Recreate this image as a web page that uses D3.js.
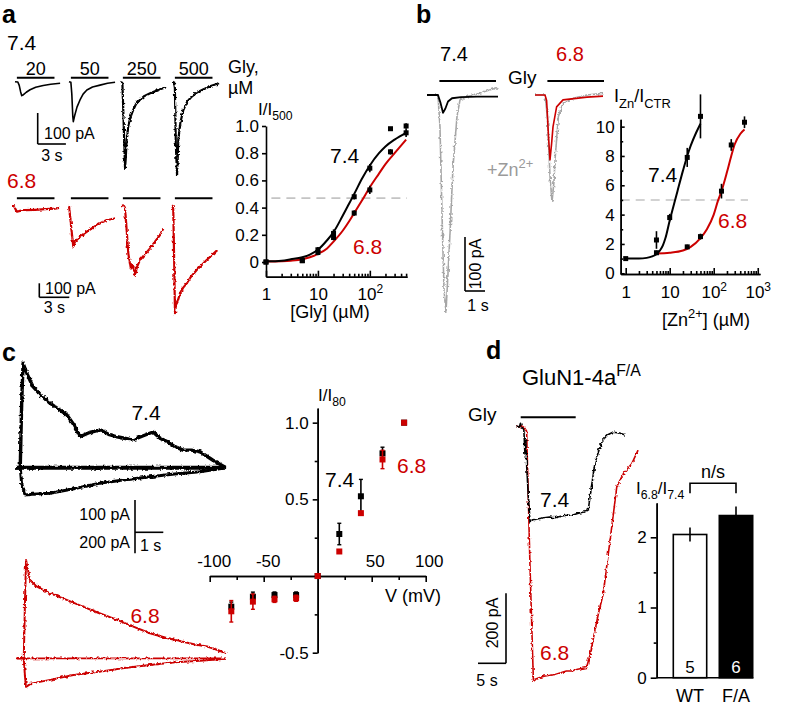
<!DOCTYPE html>
<html><head><meta charset="utf-8">
<script src="https://cdn.jsdelivr.net/npm/d3@7"></script>
<style>
body{margin:0;background:#fff}
svg{display:block;font-family:"Liberation Sans",Arial,Helvetica,sans-serif}
</style></head><body>
<svg id="fig" width="787" height="722"></svg>
<script>
// ================= DATA =================
// Panel a – glycine dose-response (I/I500)
const glyConc   = [1, 5, 10, 20, 50, 100, 250, 500];
const glyResp74 = [0.0, 0.01, 0.09, 0.21, 0.48, 0.69, 0.98, 1.0];
const glyErr74  = [0.01, 0.015, 0.02, 0.03, 0.02, 0.03, 0.01, 0.02];
const glyResp68 = [0.0, 0.01, 0.07, 0.18, 0.36, 0.53, 0.81, 0.95];
const glyErr68  = [0.01, 0.015, 0.02, 0.02, 0.02, 0.03, 0.02, 0.03];
const glyFitConc = [1,2,3,5,7,10,15,20,30,40,50,70,100,150,200,300,500];
const glyFit74 = [0.005,0.01,0.02,0.035,0.055,0.09,0.16,0.22,0.34,0.43,0.50,0.61,0.71,0.80,0.85,0.90,0.95];
const glyFit68 = [0.003,0.006,0.01,0.02,0.035,0.06,0.10,0.15,0.23,0.30,0.36,0.45,0.55,0.65,0.72,0.80,0.90];
const glyHalf = 0.47;
const glyYTicks = [0, 0.2, 0.4, 0.6, 0.8, 1.0];
const glyXTicks = [1, 10, 100];
const glyConcLabels = ["20", "50", "250", "500"];

// Panel a – example traces [time s, current pA]
const a74_20  = [[0,0],[0.3,-1],[0.45,-12],[0.6,-33],[0.72,-45],[0.9,-42],[1.2,-34],[1.6,-26],[2.2,-18],[3,-12],[3.8,-8],[4.8,-5]];
const a74_50  = [[0,0],[0.2,-2],[0.3,-40],[0.4,-110],[0.46,-129],[0.6,-110],[0.85,-82],[1.17,-59],[1.5,-40],[1.9,-27],[2.5,-17],[3.3,-11],[4.1,-5],[4.9,-2]];
const a74_250 = [[0,0],[0.15,-5],[0.3,-150],[0.43,-278],[0.5,-250],[0.6,-188],[0.8,-140],[1.0,-115],[1.3,-91],[1.6,-72],[2.0,-59],[2.5,-46],[3.1,-37],[4,-26],[4.8,-18]];
const a74_500 = [[0,0],[0.1,-2],[0.2,-20],[0.3,-200],[0.43,-301],[0.5,-250],[0.56,-188],[0.8,-130],[1.1,-91],[1.5,-65],[2.0,-48],[2.6,-34],[3.2,-25],[4,-14],[4.9,-5]];
const a68_20  = [[-0.3,5],[-0.1,5],[0.1,-25],[0.2,-36],[0.5,-30],[1,-25],[2,-22],[3,-18],[4,-14],[4.4,-8]];
const a68_50  = [[-0.07,8],[0,5],[0.1,-60],[0.3,-200],[0.43,-285],[0.6,-250],[1.1,-214],[1.77,-179],[2.77,-131],[3.77,-95],[4.6,-83]];
const a68_250 = [[0.07,10],[0.3,5],[0.4,-9],[0.55,-150],[0.73,-333],[0.97,-440],[1.1,-410],[1.23,-429],[1.4,-488],[1.6,-430],[1.9,-381],[2.4,-340],[2.9,-298],[3.4,-250],[3.9,-202],[4.23,-155]];
const a68_500 = [[-0.1,10],[-0.02,5],[0.03,-36],[0.12,-400],[0.2,-761],[0.3,-700],[0.45,-680],[0.7,-619],[1.0,-580],[1.37,-548],[1.8,-500],[2.37,-452],[2.9,-415],[3.37,-381],[3.9,-345],[4.43,-310]];
const glyApp = [0.2, 4.2];

// Panel b – Zn potentiation
const znConc74 = [1, 5, 10, 25, 50];
const znResp74 = [1.0, 2.27, 3.8, 7.9, 10.7];
const znErr74  = [0.1, 0.6, 0.25, 0.65, 1.5];
const znConc68 = [5, 25, 50, 150, 250, 500];
const znResp68 = [1.4, 1.8, 2.5, 5.6, 8.75, 10.3];
const znErr68  = [0.15, 0.15, 0.2, 0.5, 0.4, 0.4];
const znFitConc74 = [1,2,3,4,5,6,7,8,10,12,15,20,25,30,40,50];
const znFit74 = [1.0,1.0,1.05,1.15,1.3,1.55,1.9,2.4,3.6,4.5,5.6,7.0,8.0,8.7,9.6,10.2];
const znFitConc68 = [5,10,20,30,50,70,100,125,150,200,250,300,400,500];
const znFit68 = [1.35,1.4,1.55,1.8,2.4,3.0,4.0,4.95,5.6,6.9,8.0,8.8,9.5,9.8];
const znHalf = 5;
const znYTicks = [0, 2, 4, 6, 8, 10];
const znXTicks = [1, 10, 100, 1000];

const b74_ctr = [[0,0],[0.55,0],[0.68,-15],[0.8,-33],[0.92,-25],[1.05,-12],[1.25,-6],[1.7,-4],[2.5,-3],[3.55,-3]];
const b74_zn  = [[0,0],[0.55,0],[0.65,-60],[0.75,-220],[0.85,-360],[0.95,-402],[1.05,-330],[1.15,-256],[1.3,-133],[1.5,-40],[1.65,-9],[2.0,-3],[2.5,2],[3.0,8],[3.55,14]];
const b68_ctr = [[0,0],[0.5,0],[0.58,-10],[0.68,-80],[0.75,-120],[0.83,-90],[0.9,-59],[1.08,-22],[1.4,-9],[2.6,-4],[3.4,-2]];
const b68_zn  = [[0,0],[0.5,0],[0.62,-40],[0.75,-150],[0.85,-198],[0.95,-160],[1.0,-120],[1.17,-40],[1.4,-15],[1.9,-6],[2.6,0],[3.4,3]];
const znGlyApp = [0.62, 3.45];

// Panel c – I–V
const ivV    = [-80, -60, -40, -20, 0, 20, 40, 60, 80];
const iv74   = [-0.20, -0.135, -0.124, -0.124, 0, 0.274, 0.52, 0.80, 1.0];
const ivErr74= [0.03, 0.03, 0.02, 0.02, 0.01, 0.07, 0.11, 0.04, 0.01];
const iv68   = [-0.23, -0.167, -0.152, -0.145, 0, 0.16, 0.41, 0.76, 1.0];
const ivErr68= [0.07, 0.05, 0.02, 0.02, 0.01, 0.01, 0.01, 0.06, 0.01];
const ivXTicks = [-100, -50, 50, 100];
const ivYTicks = [-0.5, 0.5, 1.0];

const c74_up   = [[0,0],[0.15,0],[0.2,120],[0.25,196],[0.4,175],[0.6,152],[0.9,135],[1.2,121],[1.5,110],[1.8,99],[2.05,80],[2.26,58],[2.6,66],[2.97,71],[3.3,62],[3.57,58],[4.13,52],[4.5,60],[4.84,67],[5.1,55],[5.34,49],[5.6,40],[5.9,33],[6.2,33],[6.5,30],[6.96,14],[7.42,0]];
const c74_mid  = [[0,0],[7.42,0]];
const c74_down = [[0,0],[0.15,0],[0.2,-30],[0.32,-51],[0.6,-50],[1.2,-48],[2,-40],[2.97,-29],[3.8,-23],[4.73,-17],[5.6,-12],[6.5,-7.5],[7.42,0]];
const c68_up   = [[0,0],[0.25,0],[0.29,200],[0.33,369],[0.4,330],[0.47,294],[0.7,270],[1.18,244],[1.7,222],[2.34,194],[2.9,170],[3.55,144],[4.1,120],[4.71,94],[5.3,76],[5.88,62],[6.3,52],[6.73,44],[7.0,35],[7.4,19]];
const c68_mid  = [[0,0],[7.4,0]];
const c68_down = [[0,0],[0.25,0],[0.3,-80],[0.33,-107],[0.5,-95],[1.18,-81],[2,-63],[2.94,-50],[3.8,-36],[4.71,-25],[5.6,-15],[6.48,-9],[7.4,-2]];

// Panel d
const d74 = [[0,0],[0.6,-3],[0.8,8],[1.0,-2],[1.4,-10],[1.6,-80],[1.75,-40],[1.9,-110],[2.2,-200],[2.5,-273],[3,-268],[4,-265],[5,-262],[6,-260],[7,-262],[8,-258],[9,-255],[10,-255],[11,-250],[12.3,-245],[12.9,-240],[13.5,-170],[14.1,-106],[14.8,-70],[15.5,-40],[16.4,-25],[17.3,-18],[18.5,-20],[19.5,-26]];
const d68 = [[0,0],[0.6,-3],[1.0,0],[1.5,-5],[1.9,-15],[2.5,-400],[3.1,-726],[4,-720],[5,-715],[6,-712],[7,-710],[8,-705],[9,-700],[10,-700],[11,-695],[12.6,-690],[13.3,-650],[14.1,-583],[14.8,-530],[15.6,-478],[16.2,-400],[16.8,-326],[17.4,-250],[18,-173],[19.2,-135],[20.7,-107],[21.8,-69]];
const dGlyApp = [0.84, 10.66];
const barCats = ["WT", "F/A"];
const barVals = [2.04, 2.31];
const barErr  = [0.10, 0.13];
const barN    = [5, 6];
const barYTicks = [0, 1, 2];

// ================= DRAWING =================
const RED = "#cc0000", GRAYT = "#a6a6a6", DASH = "#c4c4c4";
const svg = d3.select("#fig");
svg.append("rect").attr("width", 787).attr("height", 722).attr("fill", "#fff");
const defs = svg.append("defs");
const filt = defs.append("filter").attr("id", "noise").attr("filterUnits", "userSpaceOnUse")
  .attr("x", 0).attr("y", 0).attr("width", 787).attr("height", 722);
filt.append("feTurbulence").attr("type", "fractalNoise").attr("baseFrequency", "0.35")
  .attr("numOctaves", 2).attr("seed", 3).attr("result", "t");
filt.append("feDisplacementMap").attr("in", "SourceGraphic").attr("in2", "t").attr("scale", 3.5)
  .attr("xChannelSelector", "R").attr("yChannelSelector", "G");

function text(x, y, s, o = {}) {
  return svg.append("text").attr("x", x).attr("y", y).attr("font-size", o.size || 17)
    .attr("fill", o.fill || "#000").attr("text-anchor", o.anchor || "start")
    .attr("font-weight", o.weight || null).attr("transform", o.rotate ? `rotate(${o.rotate},${x},${y})` : null)
    .text(s);
}
function rich(x, y, parts, o = {}) {
  const size = o.size || 17;
  const t = svg.append("text").attr("x", x).attr("y", y).attr("font-size", size)
    .attr("fill", o.fill || "#000").attr("text-anchor", o.anchor || "start");
  let cur = 0;
  for (const [s, k] of parts) {
    const off = k === "sub" ? size * 0.32 : k === "sup" ? -size * 0.42 : 0;
    const sp = t.append("tspan").text(s);
    if (off !== cur) sp.attr("dy", off - cur);
    if (k !== "n") sp.attr("font-size", size * 0.72);
    cur = off;
  }
  return t;
}
function line(x1, y1, x2, y2, color = "#000", w = 1.6, dash = null) {
  svg.append("line").attr("x1", x1).attr("y1", y1).attr("x2", x2).attr("y2", y2)
    .attr("stroke", color).attr("stroke-width", w).attr("stroke-dasharray", dash);
}
function traceScales(x0, y0, pxS, pxPA) {
  return {
    x: d3.scaleLinear().domain([0, 1]).range([x0, x0 + pxS]),
    y: d3.scaleLinear().domain([0, 1]).range([y0, y0 - pxPA])
  };
}
function drawTrace(pts, sc, color, width, noisy) {
  svg.append("path").attr("d", d3.line().x(d => sc.x(d[0])).y(d => sc.y(d[1]))(pts))
    .attr("fill", "none").attr("stroke", color).attr("stroke-width", width)
    .attr("stroke-linejoin", "round").attr("filter", noisy ? "url(#noise)" : null);
}
function styleAxis(g, size = 17) {
  g.attr("font-family", null).attr("font-size", size);
  g.selectAll("path.domain").attr("stroke-width", 1.6);
  g.selectAll(".tick line").attr("stroke-width", 1.6);
  g.selectAll(".tick text").attr("fill", "#000");
}
function supLog(g) {
  g.selectAll(".tick text").each(function (d) {
    const e = Math.round(Math.log10(d));
    if (e >= 2) {
      const t = d3.select(this);
      t.text("10");
      t.append("tspan").attr("dy", -7).attr("font-size", 12).text(e);
    }
  });
}

// ---------- Panel labels ----------
text(2, 23, "a", { size: 25, weight: "bold" });
text(416, 23, "b", { size: 25, weight: "bold" });
text(2, 361, "c", { size: 25, weight: "bold" });
text(486, 359, "d", { size: 25, weight: "bold" });

// ---------- Panel a traces ----------
const colX = [15, 69, 121, 173];
const a74 = [a74_20, a74_50, a74_250, a74_500];
const a68 = [a68_20, a68_50, a68_250, a68_500];
text(7, 50, "7.4", { size: 21 });
text(7, 188, "6.8", { size: 21, fill: RED });
colX.forEach((x0, i) => {
  const scB = traceScales(x0, 81.7, 9.4, 0.31);
  line(scB.x(glyApp[0]), 77.7, scB.x(glyApp[1]), 77.7, "#000", 2);
  line(scB.x(glyApp[0]), 198.3, scB.x(glyApp[1]), 198.3, "#000", 2);
  text((scB.x(glyApp[0]) + scB.x(glyApp[1])) / 2, 74.5, glyConcLabels[i], { size: 18, anchor: "middle" });
  drawTrace(a74[i], scB, "#000", i >= 2 ? 2.2 : 1.6, i >= 2);
  const scR = traceScales(x0, 206.7, 10, 0.14);
  drawTrace(a68[i], scR, RED, 2.2, true);
});
text(228, 73, "Gly,", { size: 18 });
text(228, 94, "µM", { size: 18 });
// scale bars
{
  const sc = traceScales(37.7, 113, 9.4, 0.31);
  line(37.7, sc.y(0), 37.7, sc.y(-100));
  line(sc.x(0), sc.y(-100), sc.x(3), sc.y(-100));
  text(44, 139, "100 pA", { size: 16 });
  text(sc.x(1.5), 161, "3 s", { size: 16, anchor: "middle" });
  const sr = traceScales(39.3, 283.3, 10, 0.14);
  line(39.3, sr.y(0), 39.3, sr.y(-100));
  line(sr.x(0), sr.y(-100), sr.x(3), sr.y(-100));
  text(45, 294, "100 pA", { size: 16 });
  text(sr.x(1.5), 313, "3 s", { size: 16, anchor: "middle" });
}

// ---------- Panel a dose-response ----------
const xA = d3.scaleLog().domain([1, 520]).range([266, 407]);
const yA = d3.scaleLinear().domain([-0.108, 1.0]).range([276.7, 126]);
line(xA(1.27), yA(glyHalf), xA(520), yA(glyHalf), DASH, 1.6, "9,6");
styleAxis(svg.append("g").attr("transform", `translate(${xA.range()[0]},0)`)
  .call(d3.axisLeft(yA).tickValues(glyYTicks).tickSize(4).tickSizeOuter(0).tickPadding(3)
    .tickFormat(d => d === 0 ? "0" : d.toFixed(1))));
const gAx = svg.append("g").attr("transform", `translate(0,${yA.range()[0]})`)
  .call(d3.axisBottom(xA).tickValues(glyXTicks).tickSize(-6).tickSizeOuter(0).tickPadding(11)
    .tickFormat(d => String(d)));
styleAxis(gAx); supLog(gAx);
styleAxis(svg.append("g").attr("transform", `translate(0,${yA.range()[0]})`)
  .call(d3.axisBottom(xA).tickValues([2,3,4,5,6,7,8,9,20,30,40,50,60,70,80,90,200,300,400,500])
    .tickSize(-3).tickSizeOuter(0).tickFormat("")));
const lineA = d3.line().x(d => xA(d[0])).y(d => yA(d[1])).curve(d3.curveMonotoneX);
svg.append("path").attr("d", lineA(glyFitConc.map((c, i) => [c, glyFit68[i]])))
  .attr("fill", "none").attr("stroke", RED).attr("stroke-width", 2);
svg.append("path").attr("d", lineA(glyFitConc.map((c, i) => [c, glyFit74[i]])))
  .attr("fill", "none").attr("stroke", "#000").attr("stroke-width", 2);
function pointsErr(xs, ys, es, sx, sy, size, color, cap) {
  xs.forEach((c, i) => {
    line(sx(c), sy(ys[i] - es[i]), sx(c), sy(ys[i] + es[i]), color, 1.6);
    if (cap) {
      line(sx(c) - cap, sy(ys[i] - es[i]), sx(c) + cap, sy(ys[i] - es[i]), color, 1.4);
      line(sx(c) - cap, sy(ys[i] + es[i]), sx(c) + cap, sy(ys[i] + es[i]), color, 1.4);
    }
    svg.append("rect").attr("x", sx(c) - size / 2).attr("y", sy(ys[i]) - size / 2)
      .attr("width", size).attr("height", size).attr("fill", color);
  });
}
pointsErr(glyConc, glyResp68, glyErr68, xA, yA, 5, "#000");
pointsErr(glyConc, glyResp74, glyErr74, xA, yA, 5, "#000");
rich(258, 115, [["I/I", "n"], ["500", "sub"]], { size: 17 });
text(330, 163, "7.4", { size: 21 });
text(353, 254, "6.8", { size: 21, fill: RED });
text(330, 318, "[Gly] (µM)", { size: 18, anchor: "middle" });

// ---------- Panel b traces ----------
{
  const s74 = traceScales(427, 95, 20, 0.54);
  const s68 = traceScales(535, 95, 20, 0.54);
  line(s74.x(znGlyApp[0]), 81, s74.x(znGlyApp[1]), 81, "#000", 2);
  line(s68.x(znGlyApp[0]), 81, s68.x(znGlyApp[1]), 81, "#000", 2);
  drawTrace(b74_zn, s74, GRAYT, 1.6, true);
  drawTrace(b74_ctr, s74, "#000", 1.8, false);
  drawTrace(b68_zn, s68, GRAYT, 1.6, true);
  drawTrace(b68_ctr, s68, RED, 1.6, false);
  text(454, 61, "7.4", { size: 20, anchor: "middle" });
  text(570, 61, "6.8", { size: 20, anchor: "middle", fill: RED });
  text(508, 84, "Gly", { size: 19 });
  rich(487, 176, [["+Zn", "n"], ["2+", "sup"]], { size: 18, fill: "#9a9a9a" });
  const sb = traceScales(465, 237, 20, 0.54);
  line(465, sb.y(0), 465, sb.y(-100));
  line(sb.x(0), sb.y(-100), sb.x(1), sb.y(-100));
  text(481, 264, "100 pA", { size: 16, anchor: "middle", rotate: -90 });
  text(sb.x(0.5) + 3, 311, "1 s", { size: 16, anchor: "middle" });
}

// ---------- Panel b dose-response ----------
const xB = d3.scaleLog().domain([0.77, 1125]).range([620.7, 760]);
const yB = d3.scaleLinear().domain([-0.05, 10.5]).range([274, 119.3]);
line(xB(0.77), yB(znHalf), xB(600), yB(znHalf), DASH, 1.6, "9,6");
styleAxis(svg.append("g").attr("transform", `translate(${xB.range()[0]},0)`)
  .call(d3.axisLeft(yB).tickValues(znYTicks).tickSize(-4).tickSizeOuter(0).tickPadding(6)
    .tickFormat(d => String(d))));
styleAxis(svg.append("g").attr("transform", `translate(${xB.range()[0]},0)`)
  .call(d3.axisLeft(yB).tickValues([1,3,5,7,9]).tickSize(-2.5).tickSizeOuter(0).tickFormat("")));
const gBx = svg.append("g").attr("transform", `translate(0,${yB.range()[0]})`)
  .call(d3.axisBottom(xB).tickValues(znXTicks).tickSize(-6).tickSizeOuter(0).tickPadding(12)
    .tickFormat(d => String(d)));
styleAxis(gBx); supLog(gBx);
styleAxis(svg.append("g").attr("transform", `translate(0,${yB.range()[0]})`)
  .call(d3.axisBottom(xB).tickValues([2,3,4,5,6,7,8,9,20,30,40,50,60,70,80,90,200,300,400,500,600,700,800,900])
    .tickSize(-3).tickSizeOuter(0).tickFormat("")));
const lineB = d3.line().x(d => xB(d[0])).y(d => yB(d[1])).curve(d3.curveMonotoneX);
svg.append("path").attr("d", lineB(znFitConc68.map((c, i) => [c, znFit68[i]])))
  .attr("fill", "none").attr("stroke", RED).attr("stroke-width", 2);
svg.append("path").attr("d", lineB(znFitConc74.map((c, i) => [c, znFit74[i]])))
  .attr("fill", "none").attr("stroke", "#000").attr("stroke-width", 2);
pointsErr(znConc68, znResp68, znErr68, xB, yB, 5, "#000");
pointsErr(znConc74, znResp74, znErr74, xB, yB, 5, "#000");
rich(614, 102, [["I", "n"], ["Zn", "sub"], ["/I", "n"], ["CTR", "sub"]], { size: 18 });
text(648, 182, "7.4", { size: 21 });
text(718, 228, "6.8", { size: 21, fill: RED });
rich(706, 326, [["[Zn", "n"], ["2+", "sup"], ["] (µM)", "n"]], { size: 18, anchor: "middle" });

// ---------- Panel c traces ----------
{
  const s74 = traceScales(16, 467.7, 28.3, 0.533);
  drawTrace(c74_down, s74, "#000", 3, true);
  drawTrace(c74_mid, s74, "#000", 4, true);
  drawTrace(c74_up, s74, "#000", 3.4, true);
  const s68 = traceScales(16.7, 658.3, 28.3, 0.2665);
  drawTrace(c68_down, s68, RED, 2, true);
  drawTrace(c68_mid, s68, RED, 1.8, true);
  drawTrace(c68_up, s68, RED, 2, true);
  text(146, 420, "7.4", { size: 21, anchor: "middle" });
  text(145, 623, "6.8", { size: 21, anchor: "middle", fill: RED });
  const sb = traceScales(135, 500, 28.3, 0.533);
  line(135, sb.y(0), 135, sb.y(-100));
  line(sb.x(0), 532.3, sb.x(1), 532.3);
  text(130, 520, "100 pA", { size: 16, anchor: "end" });
  text(130, 548, "200 pA", { size: 16, anchor: "end" });
  text(140, 551, "1 s", { size: 16 });
}

// ---------- Panel c I–V ----------
const xC = d3.scaleLinear().domain([-100, 100]).range([209.7, 425.7]);
const yC = d3.scaleLinear().domain([-0.5, 1.095]).range([652.7, 408.1]);
const gCx = svg.append("g").attr("transform", `translate(0,${yC(0)})`)
  .call(d3.axisTop(xC).tickValues(ivXTicks).tickSize(-6).tickSizeOuter(0).tickPadding(9)
    .tickFormat(d => String(d)));
styleAxis(gCx);
gCx.selectAll(".tick text").attr("dx", d => d < 0 ? 4 : 3);
styleAxis(svg.append("g").attr("transform", `translate(0,${yC(0)})`)
  .call(d3.axisTop(xC).tickValues([-75, -25, 25, 75]).tickSize(-4).tickSizeOuter(0).tickFormat("")));
styleAxis(svg.append("g").attr("transform", `translate(${xC(0)},0)`)
  .call(d3.axisLeft(yC).tickValues(ivYTicks).tickSize(5).tickSizeOuter(0).tickPadding(4)
    .tickFormat(d => d.toFixed(1))));
styleAxis(svg.append("g").attr("transform", `translate(${xC(0)},0)`)
  .call(d3.axisLeft(yC).tickValues([-0.25, 0.25, 0.75]).tickSize(3).tickSizeOuter(0).tickFormat("")));
pointsErr(ivV, iv74, ivErr74, xC, yC, 6, "#000", 2);
pointsErr(ivV, iv68, ivErr68, xC, yC, 6, RED, 2);
rich(318, 401, [["I/I", "n"], ["80", "sub"]], { size: 17 });
text(385, 602, "V (mV)", { size: 18 });
text(325, 487, "7.4", { size: 21 });
text(397, 473, "6.8", { size: 21, fill: RED });

// ---------- Panel d traces ----------
{
  const sd = traceScales(516, 426, 5.6, 0.35);
  line(sd.x(dGlyApp[0]), 417.3, sd.x(dGlyApp[1]), 417.3, "#000", 2);
  drawTrace(d68, sd, RED, 1.6, true);
  drawTrace(d74, sd, "#000", 1.6, true);
  rich(522, 385, [["GluN1-4a", "n"], ["F/A", "sup"]], { size: 22 });
  text(468, 421, "Gly", { size: 19 });
  text(540, 507, "7.4", { size: 21 });
  text(540, 660, "6.8", { size: 21, fill: RED });
  const sb = traceScales(478, 593.3, 5.6, 0.35);
  line(506, sb.y(0), 506, sb.y(-200));
  line(sb.x(0), sb.y(-200), sb.x(5), sb.y(-200));
  text(498, 623, "200 pA", { size: 16, anchor: "middle", rotate: -90 });
  text(487, 686, "5 s", { size: 16, anchor: "middle" });
}

// ---------- Panel d bar chart ----------
const yD = d3.scaleLinear().domain([0, 2.49]).range([677.7, 502.9]);
const xD = d3.scaleBand().domain(barCats).range([650.3, 775.7]).paddingInner(0.274).paddingOuter(0.5);
barCats.forEach((c, i) => {
  svg.append("rect").attr("x", xD(c)).attr("y", yD(barVals[i])).attr("width", xD.bandwidth())
    .attr("height", yD(0) - yD(barVals[i])).attr("fill", i === 0 ? "#fff" : "#000")
    .attr("stroke", "#000").attr("stroke-width", 1.6);
  const cx = xD(c) + xD.bandwidth() / 2;
  line(cx, yD(barVals[i] - barErr[i]), cx, yD(barVals[i] + barErr[i]), "#000", 1.6);
  text(cx, 673, String(barN[i]), { size: 17, anchor: "middle", fill: i === 0 ? "#000" : "#fff" });
  text(cx, 702, c, { size: 18, anchor: "middle" });
});
line(656.7, yD(0), xD("F/A") + xD.bandwidth() + 0.6, yD(0));
styleAxis(svg.append("g").attr("transform", "translate(656.7,0)")
  .call(d3.axisLeft(yD).tickValues(barYTicks).tickSize(6).tickSizeOuter(0).tickPadding(4)
    .tickFormat(d => String(d))));
styleAxis(svg.append("g").attr("transform", "translate(656.7,0)")
  .call(d3.axisLeft(yD).tickValues([0.5, 1.5]).tickSize(3).tickSizeOuter(0).tickFormat("")));
{
  const c0 = xD("WT") + xD.bandwidth() / 2, c1 = xD("F/A") + xD.bandwidth() / 2;
  svg.append("path").attr("d", `M${c0},493.3V483.3H${c1}V493.3`).attr("fill", "none")
    .attr("stroke", "#000").attr("stroke-width", 1.6);
  text((c0 + c1) / 2, 478, "n/s", { size: 18, anchor: "middle" });
  rich(636, 494, [["I", "n"], ["6.8", "sub"], ["/I", "n"], ["7.4", "sub"]], { size: 17 });
}
</script></body></html>
